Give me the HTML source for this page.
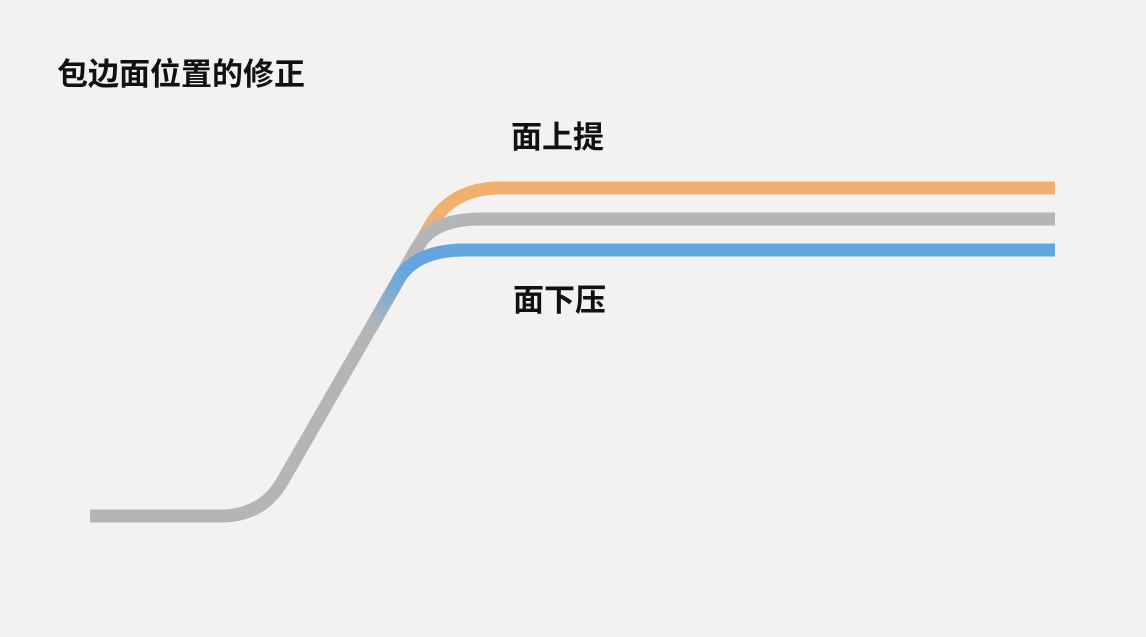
<!DOCTYPE html>
<html><head><meta charset="utf-8"><style>
html,body{margin:0;padding:0;background:#f3f2f0;}
body{width:1146px;height:637px;position:relative;overflow:hidden;font-family:"Liberation Sans","Noto Sans CJK SC",sans-serif;}
.t{position:absolute;font-weight:bold;color:#111;font-size:31px;line-height:1;white-space:nowrap;}
</style></head><body>
<div class="t" style="left:57px;top:59px;">包边面位置的修正</div>
<div class="t" style="left:511px;top:122px;">面上提</div>
<div class="t" style="left:513px;top:285px;">面下压</div>
<svg width="1146" height="637" style="position:absolute;left:0;top:0">
<defs>
<linearGradient id="go" gradientUnits="userSpaceOnUse" x1="405" y1="265" x2="480" y2="188">
<stop offset="0" stop-color="#b5b5b7"/><stop offset="0.6" stop-color="#f2b070"/></linearGradient>
<linearGradient id="gb" gradientUnits="userSpaceOnUse" x1="370" y1="330" x2="450" y2="250">
<stop offset="0" stop-color="#b5b5b7"/><stop offset="0.6" stop-color="#63a6de"/></linearGradient>
</defs>
<g fill="none" stroke-width="13">
<path d="M405,270 L430,226 Q452,188 500,188 L1055,188" stroke="url(#go)"/>
<path d="M90,516 L220,516 Q262,516 282,482 L418,246 Q434,219 480,219 L1055,219" stroke="#b5b5b7"/>
<path d="M372,326 L400,277 Q418,250 465,250 L1055,250" stroke="url(#gb)"/>
</g>
</svg>
</body></html>
